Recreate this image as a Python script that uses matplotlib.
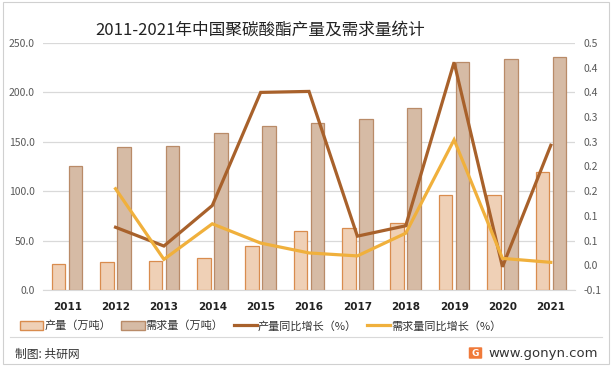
import numpy as np
import matplotlib
matplotlib.use('Agg')
import matplotlib.pyplot as plt
from matplotlib.patches import Patch, Rectangle, FancyBboxPatch
from matplotlib.lines import Line2D

plt.rcParams['font.family'] = ['Noto Sans CJK SC', 'DejaVu Sans']

# data
years = ['2011', '2012', '2013', '2014', '2015', '2016', '2017', '2018', '2019', '2020', '2021']
output = [26.3, 28.3, 29.4, 32.4, 44.5, 59.4, 62.4, 67.8, 95.8, 95.8, 119.1]
demand = [125.2, 144.4, 145.4, 158.9, 165.7, 169.0, 172.7, 183.9, 230.4, 233.5, 235.5]
output_growth = [0.077, 0.039, 0.121, 0.350, 0.352, 0.059, 0.080, 0.411, -0.003, 0.243]
demand_growth = [0.155, 0.012, 0.084, 0.045, 0.025, 0.019, 0.065, 0.254, 0.014, 0.006]
right_ticks = [-0.05, 0.0, 0.05, 0.1, 0.15, 0.2, 0.25, 0.3, 0.35, 0.4, 0.45]
right_labels = ['-0.1', '0.0', '0.1', '0.1', '0.2', '0.2', '0.3', '0.3', '0.4', '0.4', '0.5']

c_out_fill, c_out_edge = '#EFD0B6', '#D98C4E'
c_dem_fill, c_dem_edge = '#D6BBA5', '#B98B68'
c_out_line = '#A8612B'
c_dem_line = '#F0B03C'
tick_gray = '#595959'

fig = plt.figure(figsize=(6.14, 3.71), dpi=100)
ax = fig.add_axes([43/614, 1-290/371, (575-43)/614, (290-43)/371])
ax2 = ax.twinx()

x = np.arange(len(years))
w = 0.28
ax.bar(x - 0.175, output, w, color=c_out_fill, edgecolor=c_out_edge, linewidth=0.9, zorder=2)
ax.bar(x + 0.175, demand, w, color=c_dem_fill, edgecolor=c_dem_edge, linewidth=0.9, zorder=2)

ax2.plot(x[1:], output_growth, color=c_out_line, lw=2.3, solid_joinstyle='miter')
ax2.plot(x[1:], demand_growth, color=c_dem_line, lw=2.3, solid_joinstyle='miter')

ax.set_xlim(-0.5, len(years) - 0.5)
ax.set_ylim(0, 250)
ax.set_yticks(np.arange(0, 251, 50))
ax.set_yticklabels([f'{v:.1f}' for v in np.arange(0, 251, 50)])
ax.yaxis.grid(True, color='#D9D9D9', lw=0.9, zorder=0)
ax.set_axisbelow(True)
ax.set_xticks(x)
ax.set_xticklabels(years, fontweight='bold', fontsize=7.5, color='#222222', family='DejaVu Sans')
ax.tick_params(axis='x', length=0, pad=9)
ax.tick_params(axis='y', length=0, labelsize=7.5, labelcolor=tick_gray, pad=6)

ax2.set_ylim(-0.05, 0.45)
ax2.set_yticks(right_ticks)
ax2.set_yticklabels(right_labels)
ax2.tick_params(axis='y', length=0, labelsize=7.5, labelcolor=tick_gray, pad=6)

for a in (ax, ax2):
    for s in a.spines.values():
        s.set_visible(False)
ax.spines['bottom'].set_visible(True)
ax.spines['bottom'].set_color('#D9D9D9')

fig.text(260/614, 1-30/371, '2011-2021年中国聚碳酸酯产量及需求量统计', ha='center', va='center',
         fontsize=12, color='#222222')

handles = [Patch(facecolor=c_out_fill, edgecolor=c_out_edge, lw=1.0),
           Patch(facecolor=c_dem_fill, edgecolor=c_dem_edge, lw=1.0),
           Line2D([], [], color=c_out_line, lw=2.3),
           Line2D([], [], color=c_dem_line, lw=2.3)]
labels = ['产量（万吨）', '需求量（万吨）', '产量同比增长（%）', '需求量同比增长（%）']
fig.legend(handles, labels, loc='center left', bbox_to_anchor=(10/614, 1-326/371), ncol=4,
           frameon=False, fontsize=8, handlelength=2.1, handleheight=0.9, handletextpad=0.1,
           columnspacing=0.9, labelcolor='#333333')

# footer
fig.add_artist(Line2D([10/614, 602/614], [1-337/371, 1-337/371], color='#D9D9D9', lw=0.8))
fig.text(15/614, 1-354/371, '制图: 共研网', ha='left', va='center', fontsize=8.5, color='#333333')
fig.add_artist(FancyBboxPatch((470/614, 1-358/371), 11/614, 10/371, boxstyle='round,pad=0.002',
                              facecolor='#F07A3A', edgecolor='none', transform=fig.transFigure))
fig.text(475.5/614, 1-353/371, 'G', ha='center', va='center', fontsize=6.5, color='white',
         fontweight='bold', family='DejaVu Sans')
fig.text(488/614, 1-353/371, 'www.gonyn.com', ha='left', va='center', fontsize=9.5, color='#333333',
         family='DejaVu Sans')
fig.add_artist(Rectangle((3/614, 1-364/371), 606/614, 362/371, fill=False, edgecolor='#D0D0D0',
                         lw=0.8, transform=fig.transFigure))

fig.savefig('out.png', dpi=100)
